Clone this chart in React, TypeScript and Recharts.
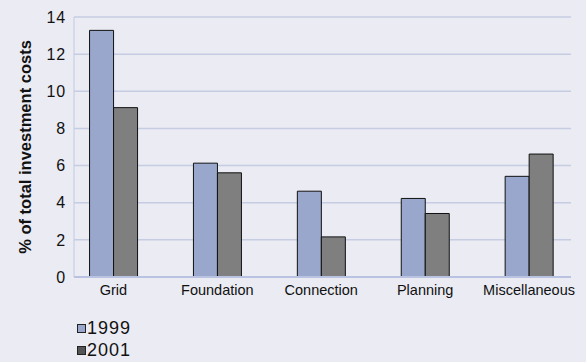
import React from "react";
import { BarChart, Bar, XAxis, YAxis, CartesianGrid } from "recharts";

const categories = ["Grid", "Foundation", "Connection", "Planning", "Miscellaneous"];
const series1999 = [13.28, 6.13, 4.62, 4.23, 5.42];
const series2001 = [9.12, 5.61, 2.16, 3.42, 6.62];
const yTicks = [0, 2, 4, 6, 8, 10, 12, 14];

const data = categories.map((c, i) => ({ name: c, y1999: series1999[i], y2001: series2001[i] }));

const FONT = '"Liberation Sans", Arial, sans-serif';
const BG = "#eaebf3";
const C1999 = "#98a7cb";
const C2001 = "#7f7f7f";

export default function App() {
  return (
    <div style={{ position: "absolute", left: 0, top: 0, width: 586, height: 362, background: BG, fontFamily: FONT }}>
      <BarChart
        width={586}
        height={362}
        data={data}
        margin={{ top: 17, right: 15, bottom: 55, left: 0 }}
        barCategoryGap="27%"
        barGap={0}
      >
        <CartesianGrid vertical={false} stroke="#c6cce2" strokeWidth={1.5} />
        <XAxis
          dataKey="name"
          height={30}
          padding={{ left: -12.5, right: -10 }}
          tickLine={false}
          axisLine={{ stroke: "#b9c3e1", strokeWidth: 2 }}
          tick={{ fill: "#111", fontSize: 14.5, fontFamily: FONT }}
          interval={0}
        />
        <YAxis
          width={74}
          domain={[0, 14]}
          ticks={yTicks}
          tickLine={false}
          axisLine={{ stroke: "#c3cae4", strokeWidth: 1 }}
          tick={{ fill: "#111", fontSize: 16, fontFamily: FONT, letterSpacing: 0.8 }}
          label={{
            value: "% of total investment costs",
            angle: -90,
            position: "insideLeft",
            dx: 20,
            dy: 0,
            style: { textAnchor: "middle", fontWeight: "bold", fontSize: 16.5, fill: "#111", fontFamily: FONT },
          }}
        />
        <Bar dataKey="y1999" fill={C1999} stroke="#111" strokeWidth={1} isAnimationActive={false} />
        <Bar dataKey="y2001" fill={C2001} stroke="#111" strokeWidth={1} isAnimationActive={false} />
      </BarChart>
      <div style={{ position: "absolute", left: 77, top: 317, fontSize: 18, letterSpacing: 1, color: "#111", lineHeight: "22px" }}>
        <div style={{ display: "flex", alignItems: "center" }}>
          <span style={{ width: 7, height: 7, background: C1999, border: "1px solid #222", display: "inline-block", marginRight: 1 }} />
          <span>1999</span>
        </div>
        <div style={{ display: "flex", alignItems: "center" }}>
          <span style={{ width: 7, height: 7, background: "#555", border: "1px solid #222", display: "inline-block", marginRight: 1 }} />
          <span>2001</span>
        </div>
      </div>
    </div>
  );
}
